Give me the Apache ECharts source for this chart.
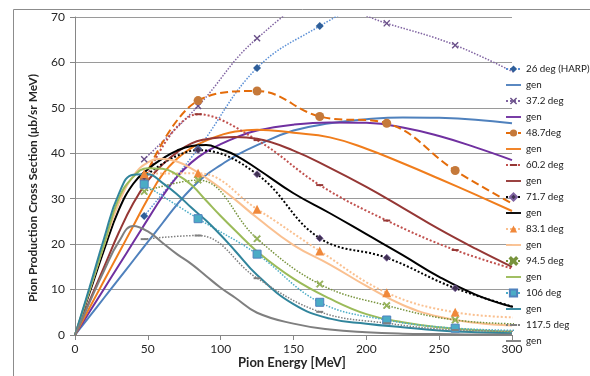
<!DOCTYPE html>
<html>
<head>
<meta charset="utf-8">
<script src="https://cdn.jsdelivr.net/npm/echarts@6/dist/echarts.min.js"></script>
<style>
  html, body { margin: 0; padding: 0; background: #fff; }
  #chart { width: 590px; height: 376px; }
</style>
</head>
<body>
<div id="chart"></div>
<script>
// Measured pion energies (MeV) at which each angle bin was sampled
const measEnergy = [47.5, 84.5, 125, 168, 214, 261, 310];

// Measured cross sections (µb/sr MeV) per angle
const deg26  = [26.2, 41.0, 58.8, 68.0, 76.0];
const deg37  = [38.7, 50.4, 65.3, 73.0, 68.6, 63.8, 56.4];
const deg48  = [34.3, 51.6, 53.7, 48.1, 46.6, 36.2, 27.2];
const deg60  = [33.5, 48.6, 42.9, 33.0, 25.2, 18.7, 13.7];
const deg71  = [34.8, 40.7, 35.4, 21.3, 17.0, 10.3, 5.4];
const deg83  = [35.5, 35.6, 27.7, 18.5, 9.3, 5.0, 3.8];
const deg94  = [31.6, 34.1, 21.2, 11.2, 6.5, 3.3, 2.4];
const deg106 = [33.2, 25.6, 17.8, 7.2, 3.3, 1.5, 1.0];
const deg117 = [21.1, 21.9, 12.5, 5.1, 2.6, 1.1, 0.8];

// Generator curves, sampled on a common energy grid
const genEnergy = [0, 10, 20, 30, 40, 50, 60, 70, 80, 90, 100, 110, 125, 150, 175, 200, 225, 250, 275, 300];
const gen26  = [0, 4.1, 8.2, 12.3, 16.4, 20.5, 24.6, 28.7, 32.3, 35.2, 37.4, 39.4, 41.8, 45.0, 46.6, 47.5, 47.9, 47.8, 47.4, 46.6];
const gen37  = [0, 5.1, 10.2, 15.3, 20.4, 25.5, 30.5, 34.8, 38.0, 40.3, 42.0, 43.4, 45.0, 46.3, 46.8, 46.7, 45.7, 43.8, 41.3, 38.5];
const gen48  = [0, 6.0, 12.0, 18.0, 24.0, 30.0, 35.3, 38.8, 41.2, 42.8, 44.0, 44.8, 45.2, 44.5, 43.5, 41.0, 37.8, 34.4, 30.9, 27.3];
const gen60  = [0, 7.5, 15.0, 22.5, 29.0, 34.0, 37.5, 40.2, 42.2, 43.1, 43.5, 43.6, 43.2, 40.6, 36.8, 32.6, 28.0, 23.3, 19.0, 15.0];
const gen71  = [0, 9.3, 18.8, 27.5, 33.3, 36.5, 38.8, 40.6, 41.6, 41.8, 40.9, 39.6, 36.6, 31.2, 26.8, 22.2, 17.6, 12.8, 8.9, 6.2];
const gen83  = [0, 9.8, 19.8, 29.0, 35.0, 38.0, 38.8, 38.2, 36.6, 34.6, 32.3, 29.8, 25.8, 19.8, 15.5, 10.8, 6.6, 4.0, 2.7, 2.1];
const gen94  = [0, 10.0, 20.0, 30.0, 34.8, 36.7, 36.6, 35.3, 33.0, 29.6, 26.2, 23.0, 18.4, 12.4, 8.0, 4.6, 2.8, 1.7, 1.1, 0.7];
const gen106 = [0, 10.5, 21.3, 31.0, 35.3, 35.4, 33.5, 31.0, 28.0, 25.2, 22.0, 18.5, 13.2, 6.8, 3.6, 2.5, 1.7, 1.0, 0.6, 0.4];
const gen117 = [0, 7.2, 14.2, 20.5, 24.0, 22.8, 20.3, 17.8, 15.6, 13.0, 10.4, 8.2, 4.9, 2.5, 1.2, 0.6, 0.3, 0.2, 0.1, 0.1];

// Axis ticks
const xTicks = { min: 0, max: 300, step: 50 };
const yTicks = { min: 0, max: 70, step: 10 };

const pair = (xs, ys) => ys.map((v, i) => [xs[i], v]);

// Marker shapes: a cross, and a short dash padded to a square box
const xMark = 'path://M0,1.4L1.4,0L5,3.6L8.6,0L10,1.4L6.4,5L10,8.6L8.6,10L5,6.4L1.4,10L0,8.6L3.6,5Z';
const dashMark = 'path://M0,0M0,3.6H10V6.4H0ZM10,10';
const barIcon = 'path://M0,0H16V2H0Z';

function measured(name, values, lineColor, lineType, lineWidth, symbol, symbolSize, itemStyle) {
  return {
    name, type: 'line', data: pair(measEnergy, values),
    smooth: 0.4, symbol, symbolSize, showSymbol: true,
    lineStyle: { color: lineColor, type: lineType, width: lineWidth },
    itemStyle: Object.assign({ opacity: 1 }, itemStyle),
    emphasis: { disabled: true }
  };
}
function generated(name, values, color) {
  return {
    name, type: 'line', data: pair(genEnergy, values),
    smooth: 0.45, symbol: 'none', showSymbol: false,
    lineStyle: { color, width: 2 },
    itemStyle: { color },
    emphasis: { disabled: true }
  };
}

const series = [
  measured('26 deg (HARP)', deg26, '#5a8fd6', 'dotted', 1.5, 'diamond', 8, { color: '#2f5f9a' }),
  generated('gen 26', gen26, '#4f81bd'),
  measured('37.2 deg', deg37, '#8064a2', 'dotted', 1.5, xMark, 7, { color: '#6a5089' }),
  generated('gen 37', gen37, '#7030a0'),
  measured('48.7deg', deg48, '#e46c0a', 'dashed', 2, 'circle', 9, { color: '#c5793a' }),
  generated('gen 48', gen48, '#f07d1c'),
  measured('60.2 deg', deg60, '#c0504d', 'dotted', 2, dashMark, 7, { color: '#953735' }),
  generated('gen 60', gen60, '#953735'),
  measured('71.7 deg', deg71, '#000000', 'dotted', 2, 'diamond', 7, { color: '#3f3151', borderColor: '#8064a2', borderWidth: 0.8 }),
  generated('gen 71', gen71, '#000000'),
  measured('83.1 deg', deg83, '#fac090', 'dotted', 2, 'triangle', 9, { color: '#f0883a' }),
  generated('gen 83', gen83, '#fac090'),
  measured('94.5 deg', deg94, '#77933c', 'dotted', 1.5, xMark, 7, { color: '#9bbb59', borderColor: '#77933c', borderWidth: 0.5 }),
  generated('gen 94', gen94, '#9bbb59'),
  measured('106 deg', deg106, '#4bacc6', 'dotted', 1.5, 'rect', 8, { color: '#4bacc6', borderColor: '#4f81bd', borderWidth: 1 }),
  generated('gen 106', gen106, '#31859c'),
  measured('117.5 deg', deg117, '#7f7f7f', 'dotted', 1.5, dashMark, 7, { color: '#7f7f7f' }),
  generated('gen 117', gen117, '#7f7f7f')
];

const font = 'Lato, "Liberation Sans", sans-serif';
const chart = echarts.init(document.getElementById('chart'), null, { renderer: 'canvas' });
chart.setOption({
  animation: false,
  backgroundColor: '#ffffff',
  textStyle: { fontFamily: font },
  grid: { left: 75, right: 78, top: 17, bottom: 41, containLabel: false },
  xAxis: {
    type: 'value', min: xTicks.min, max: xTicks.max, interval: xTicks.step,
    axisLine: { show: true, lineStyle: { color: '#868686', width: 1 } },
    axisTick: { show: true, inside: false, length: 5, lineStyle: { color: '#868686' } },
    axisLabel: { margin: 8, fontSize: 12, color: '#262626', fontFamily: font },
    splitLine: { show: false }
  },
  yAxis: {
    type: 'value', min: yTicks.min, max: yTicks.max, interval: yTicks.step,
    axisLine: { show: true, lineStyle: { color: '#868686', width: 1 } },
    axisTick: { show: true, inside: false, length: 5, lineStyle: { color: '#868686' } },
    axisLabel: { margin: 10, fontSize: 12, color: '#262626', fontFamily: font },
    splitLine: { show: true, lineStyle: { color: '#9a9a9a', width: 1.2 } }
  },
  legend: {
    orient: 'vertical', left: 505, top: 63, padding: 0,
    itemWidth: 15, itemHeight: 9, itemGap: 4,
    selectedMode: false,
    textStyle: { fontSize: 9.8, lineHeight: 12, color: '#1a1a1a', fontFamily: font },
    formatter: name => name.startsWith('gen') ? 'gen' : name,
    data: series.map(s => s.name.startsWith('gen')
      ? { name: s.name, icon: barIcon }
      : { name: s.name })
  },
  graphic: [
    { type: 'rect', silent: true, shape: { x: 13.5, y: 9.5, width: 620, height: 420 },
      style: { fill: 'none', stroke: '#8c8c8c', lineWidth: 1 } },
    { type: 'text', silent: true, x: 33, y: 188, rotation: Math.PI / 2,
      style: { text: 'Pion Production Cross Section (μb/sr MeV)', fill: '#262626',
        font: 'bold 12px ' + font, align: 'center', verticalAlign: 'middle' } },
    { type: 'text', silent: true, x: 292, y: 363,
      style: { text: 'Pion Energy [MeV]', fill: '#262626',
        font: 'bold 13px ' + font, align: 'center', verticalAlign: 'middle' } }
  ],
  series
});
</script>
</body>
</html>
